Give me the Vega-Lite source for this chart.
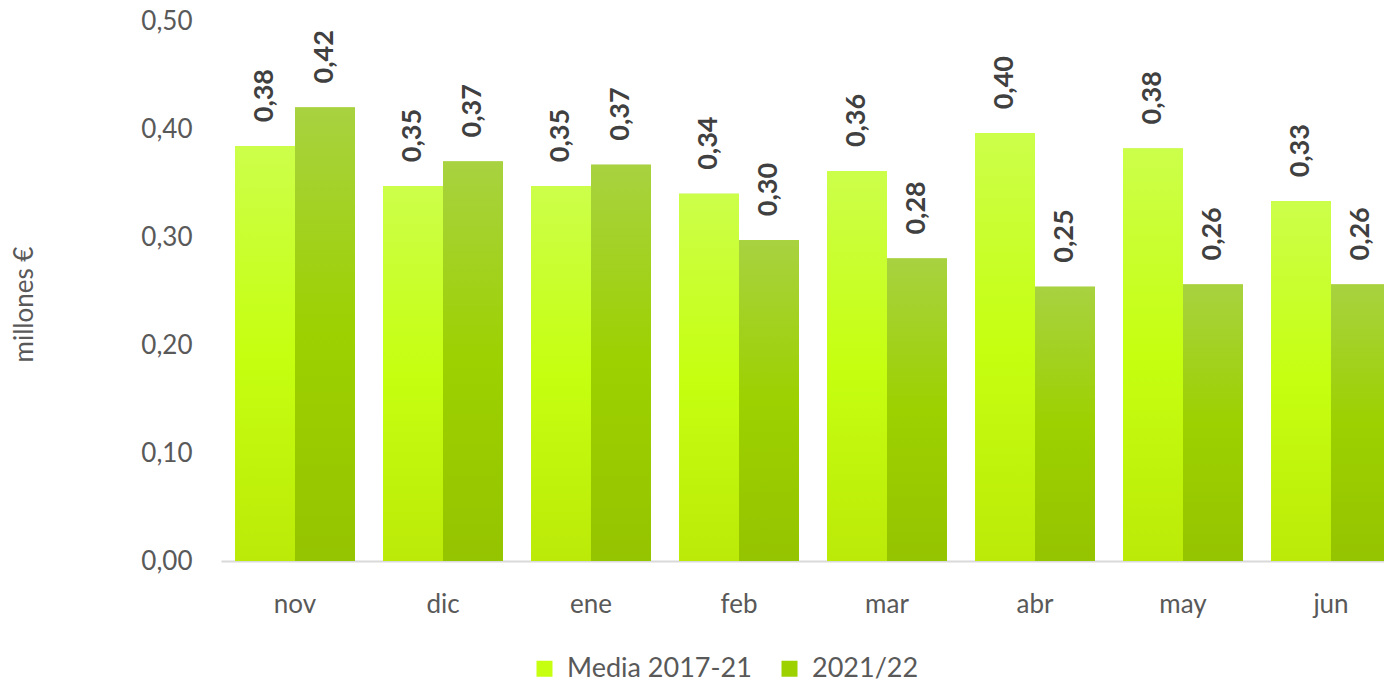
{
  "$schema": "https://vega.github.io/schema/vega-lite/v6.json",
  "autosize": {"type": "none"},
  "padding": {"left": 221, "top": 21, "right": 0, "bottom": 123},
  "width": 1163,
  "height": 540,
  "config": {
    "locale": {"number": {"decimal": ",", "thousands": ".", "grouping": [3], "currency": ["", " €"]}},
    "view": {"stroke": null},
    "font": "Lato"
  },
  "data": {
    "values": [
      {"mes": "nov", "serie": "Media 2017-21", "valor": 0.384},
      {"mes": "nov", "serie": "2021/22", "valor": 0.420},
      {"mes": "dic", "serie": "Media 2017-21", "valor": 0.347},
      {"mes": "dic", "serie": "2021/22", "valor": 0.370},
      {"mes": "ene", "serie": "Media 2017-21", "valor": 0.347},
      {"mes": "ene", "serie": "2021/22", "valor": 0.367},
      {"mes": "feb", "serie": "Media 2017-21", "valor": 0.340},
      {"mes": "feb", "serie": "2021/22", "valor": 0.297},
      {"mes": "mar", "serie": "Media 2017-21", "valor": 0.361},
      {"mes": "mar", "serie": "2021/22", "valor": 0.280},
      {"mes": "abr", "serie": "Media 2017-21", "valor": 0.396},
      {"mes": "abr", "serie": "2021/22", "valor": 0.254},
      {"mes": "may", "serie": "Media 2017-21", "valor": 0.382},
      {"mes": "may", "serie": "2021/22", "valor": 0.256},
      {"mes": "jun", "serie": "Media 2017-21", "valor": 0.333},
      {"mes": "jun", "serie": "2021/22", "valor": 0.256}
    ]
  },
  "encoding": {
    "x": {
      "field": "mes",
      "type": "nominal",
      "sort": ["nov", "dic", "ene", "feb", "mar", "abr", "may", "jun"],
      "scale": {"range": [0, 1184], "paddingInner": 0.19, "paddingOuter": 0.095},
      "axis": {
        "title": null,
        "labelAngle": 0,
        "labelFontSize": 26,
        "labelColor": "#595959",
        "ticks": false,
        "labelPadding": 30,
        "domainColor": "#d9d9d9",
        "domainWidth": 2,
        "grid": false
      }
    },
    "xOffset": {"field": "serie", "type": "nominal", "sort": ["Media 2017-21", "2021/22"]},
    "y": {
      "field": "valor",
      "type": "quantitative",
      "scale": {"domain": [0, 0.5]},
      "axis": {
        "values": [0, 0.1, 0.2, 0.3, 0.4, 0.5],
        "format": ".2f",
        "labelFontSize": 26,
        "labelColor": "#595959",
        "labelPadding": 29,
        "domain": false,
        "ticks": false,
        "grid": false,
        "title": "millones €",
        "titleFontSize": 26,
        "titleFontWeight": "normal",
        "titleColor": "#595959",
        "titleX": -197,
        "titleY": 283,
        "titleAngle": 270,
        "titleAlign": "center",
        "titleBaseline": "middle"
      }
    }
  },
  "layer": [
    {
      "mark": {"type": "bar", "xOffset": -3, "color": "#000000", "opacity": 0.07},
      "encoding": {}
    },
    {
      "mark": {"type": "bar", "xOffset": 3, "color": "#000000", "opacity": 0.09},
      "encoding": {}
    },
    {
      "mark": {"type": "bar"},
      "encoding": {
        "color": {
          "field": "serie",
          "type": "nominal",
          "sort": ["Media 2017-21", "2021/22"],
          "scale": {"domain": ["Media 2017-21", "2021/22"], "range": ["#C6FF10", "#9DD100"]},
          "legend": {
            "title": null,
            "orient": "none",
            "legendX": 310,
            "legendY": 634,
            "direction": "horizontal",
            "symbolType": "square",
            "symbolSize": 256,
            "symbolStrokeWidth": 0,
            "labelFontSize": 27,
            "labelColor": "#595959",
            "labelOffset": 9,
            "columnPadding": 24,
            "labelLimit": 400
          }
        }
      }
    },
    {
      "mark": {"type": "bar"},
      "encoding": {
        "color": {
          "condition": {
            "test": "datum.serie === 'Media 2017-21'",
            "value": {"gradient": "linear", "x1": 0, "y1": 0, "x2": 0, "y2": 1, "stops": [{"offset": 0, "color": "#CCFF4A"}, {"offset": 0.5, "color": "#C6FF10"}, {"offset": 1, "color": "#BBEA08"}]}
          },
          "value": {"gradient": "linear", "x1": 0, "y1": 0, "x2": 0, "y2": 1, "stops": [{"offset": 0, "color": "#A8D240"}, {"offset": 0.5, "color": "#9DD100"}, {"offset": 1, "color": "#95C400"}]}
        }
      }
    },
    {
      "mark": {"type": "text", "angle": 270, "align": "left", "baseline": "middle", "dx": 24, "fontSize": 27, "fontWeight": "bold", "color": "#404040"},
      "encoding": {
        "text": {"field": "valor", "type": "quantitative", "format": ".2f"}
      }
    }
  ]
}
